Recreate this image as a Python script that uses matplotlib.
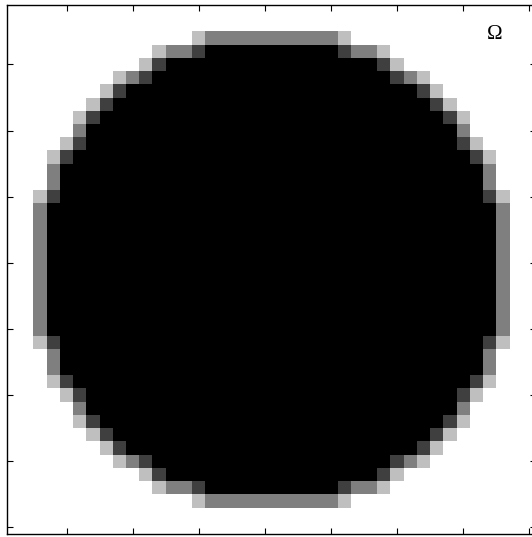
import numpy as np
import matplotlib
matplotlib.use("Agg")
import matplotlib.pyplot as plt

# top-left quadrant of the 40x40 grid, rows 0..19, cols 0..19
# '.' white, 'l' light gray, 'm' mid gray, 'd' dark gray, '#' black
quadrant = [
    "....................",
    "....................",
    "..............lmmmmm",
    "...........lmmd#####",
    "..........ld########",
    "........lmd#########",
    ".......ld###########",
    "......ld############",
    ".....ld#############",
    ".....m##############",
    "....ld##############",
    "...ld###############",
    "...m################",
    "...m################",
    "..ld################",
    "..m#################",
    "..m#################",
    "..m#################",
    "..m#################",
    "..m#################",
]
levels = {".": 0.0, "l": 0.25, "m": 0.5, "d": 0.75, "#": 1.0}
tick_pos = [5, 10, 15, 20, 25, 30, 35, 40]
label = "\u03a9"

q = np.array([[levels[ch] for ch in row] for row in quadrant])
top = np.hstack([q, q[:, ::-1]])
grid = np.vstack([top, top[::-1, :]])

fig = plt.figure(figsize=(5.32, 5.37), dpi=100)
ax = fig.add_axes([7 / 532, 3.2 / 537, 529 / 532, 528.8 / 537])
ax.imshow(grid, cmap="gray_r", vmin=0, vmax=1, interpolation="nearest",
          extent=(0.5, 40.5, 40.5, 0.5), aspect="auto")
ax.set_xlim(0.5, 40.5)
ax.set_ylim(40.5, 0.5)
ax.set_xticks(tick_pos)
ax.set_yticks(tick_pos)
ax.set_xticklabels([])
ax.set_yticklabels([])
ax.tick_params(direction="in", length=4, width=0.8, top=True, right=True)
for s in ax.spines.values():
    s.set_linewidth(1.0)

ax.text(37.35, 2.7, label, fontsize=15, family="Liberation Serif",
        ha="center", va="center")

fig.savefig("out.png", dpi=100)
